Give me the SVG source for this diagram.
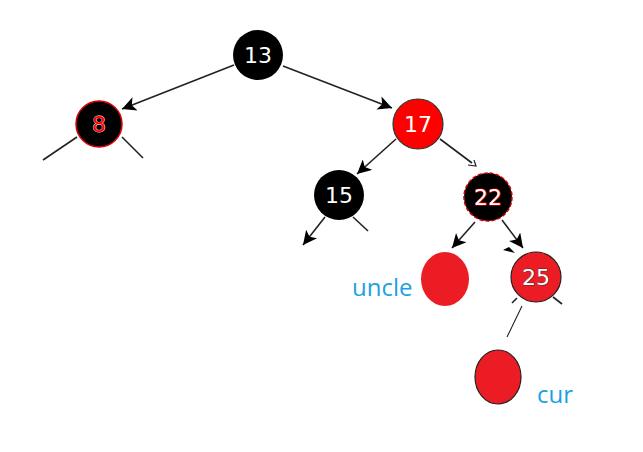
<svg xmlns="http://www.w3.org/2000/svg" width="643" height="452" viewBox="0 0 643 452">
<defs>
<marker id="ah" viewBox="0 0 10 10" refX="10" refY="5" markerWidth="16" markerHeight="14" markerUnits="userSpaceOnUse" orient="auto">
<path d="M0,0 L10,5 L0,10 L2.5,5 Z" fill="#000"/>
</marker>
</defs>
<style>
.e{stroke:#222;stroke-width:1.6;fill:none}
.ea{stroke:#222;stroke-width:1.6;fill:none;marker-end:url(#ah)}
.num{font-family:"DejaVu Sans",sans-serif;font-size:22px;text-anchor:middle;dominant-baseline:central}
.lbl{font-family:"Open Sans",sans-serif;font-size:24px;fill:#1ba1e2}
</style>
<rect width="643" height="452" fill="#fff"/>
<g id="connectors">
<line class="ea" x1="234" y1="65" x2="122" y2="109"/>
<line class="ea" x1="283" y1="66" x2="392" y2="108"/>
<line class="ea" x1="396" y1="139" x2="357" y2="174"/>
<line class="e" x1="440" y1="139" x2="472" y2="163"/>
<path d="M468,165 L476,166 L474,160" fill="none" stroke="#222" stroke-width="1.2"/>
<line class="ea" x1="325" y1="217" x2="303" y2="245"/>
<line class="e" x1="353" y1="217" x2="368" y2="231"/>
<line class="ea" x1="475" y1="222" x2="452" y2="248"/>
<line class="ea" x1="502" y1="220" x2="523" y2="248"/>
<path d="M503,250 L515,253 L509,247 Z" fill="#000"/>
<line class="e" x1="77" y1="137" x2="43" y2="160"/>
<line class="e" x1="122" y1="137" x2="143" y2="158"/>
<line class="e" x1="517" y1="298" x2="512" y2="303"/>
<line class="e" x1="553" y1="297" x2="562" y2="304"/>
<line stroke="#222" stroke-width="1.1" x1="522" y1="306" x2="507" y2="337"/>
</g>
<g id="n13">
<circle cx="258" cy="55" r="25" fill="#000"/>
<text class="num" x="258" y="55" fill="#fff">13</text>
</g>
<g id="n8">
<circle cx="99" cy="124" r="23" fill="#000" stroke="#d00" stroke-width="1.5"/>
<text class="num" x="99" y="124" fill="#f00" stroke="#fff" stroke-width="0.8" paint-order="stroke">8</text>
</g>
<g id="n17">
<circle cx="418" cy="124" r="25" fill="#f00" stroke="#333" stroke-width="1.2"/>
<text class="num" x="418" y="124" fill="#fff">17</text>
</g>
<g id="n15">
<circle cx="339" cy="195" r="25" fill="#000"/>
<text class="num" x="339" y="195" fill="#fff">15</text>
</g>
<g id="n22">
<circle cx="488" cy="197" r="24" fill="#000" stroke="#c00" stroke-width="1.5" stroke-dasharray="4 2"/>
<text class="num" x="488" y="197" fill="#fff" stroke="#e00" stroke-width="1.2" paint-order="stroke">22</text>
</g>
<g id="uncle">
<ellipse cx="445" cy="279" rx="24" ry="27" fill="#ec1c24"/>
<text class="lbl" x="352" y="296">uncle</text>
</g>
<g id="n25">
<circle cx="536" cy="277" r="25" fill="#ec1c24" stroke="#222" stroke-width="1.2"/>
<text class="num" x="536" y="277" fill="#fff" stroke="#333" stroke-width="0.8" paint-order="stroke">25</text>
</g>
<g id="cur">
<ellipse cx="498" cy="377" rx="23" ry="27" fill="#ec1c24" stroke="#222" stroke-width="1.2"/>
<text class="lbl" x="537" y="403">cur</text>
</g>
</svg>
